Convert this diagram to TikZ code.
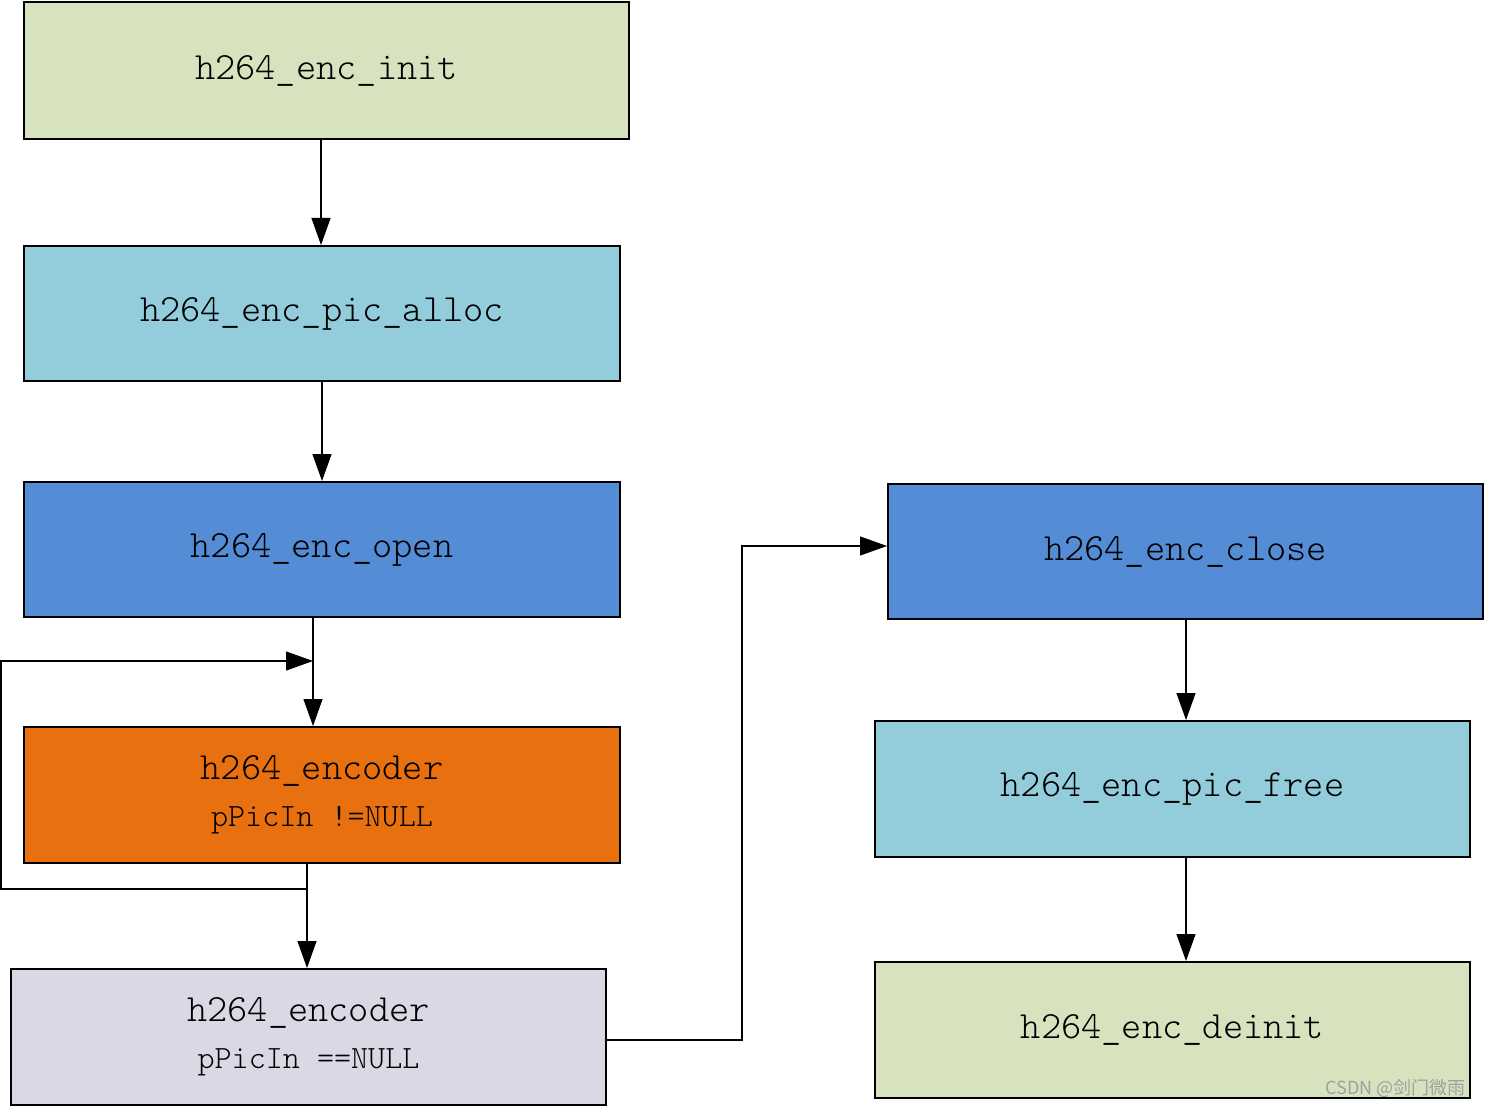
\documentclass[tikz,border=0pt]{standalone}
\usepackage{fontspec}
\setmonofont{Latin Modern Mono Light}
\newfontfamily\cjk{Noto Sans CJK SC}
\usetikzlibrary{arrows.meta}
\definecolor{cgreen}{HTML}{D7E3BF}
\definecolor{clblue}{HTML}{93CDDC}
\definecolor{cblue}{HTML}{558CD6}
\definecolor{corange}{HTML}{E8700F}
\definecolor{clav}{HTML}{DCD7E5}
\tikzset{
  box/.style={draw=black, line width=2pt, rectangle, minimum width=595pt, minimum height=136pt, inner sep=0pt, align=center, font=\ttfamily\fontsize{38.5}{42}\selectfont},
  conn/.style={draw=black, line width=1.1pt, -{Triangle[length=27pt,width=19pt]}}
}
\newcommand{\subtxt}[1]{{\fontsize{32.5}{35}\selectfont #1}}
\newcommand{\lowered}[1]{\raisebox{-2pt}{#1}}
\begin{document}
\begin{tikzpicture}[x=1pt,y=-1pt]
\useasboundingbox (0,0) rectangle (1485,1107);
\node[box, fill=cgreen, minimum width=605pt, minimum height=137pt] (init) at (326.5,70.5) {\lowered{h264\_enc\_init}};
\node[box, fill=clblue, minimum width=596pt, minimum height=135pt] (alloc) at (322,313.5) {\lowered{h264\_enc\_pic\_alloc}};
\node[box, fill=cblue, minimum width=596pt, minimum height=135pt] (open) at (322,549.5) {\lowered{h264\_enc\_open}};
\node[box, fill=corange, minimum width=596pt] (enc1) at (322,795) {h264\_encoder\\[5pt]\subtxt{pPicIn !=NULL}};
\node[box, fill=clav, minimum width=595pt] (enc2) at (308.5,1037) {h264\_encoder\\[5pt]\subtxt{pPicIn ==NULL}};
\node[box, fill=cblue, minimum width=595pt, minimum height=135pt] (close) at (1185.5,551.5) {\lowered{h264\_enc\_close}};
\node[box, fill=clblue, minimum width=595pt] (free) at (1172.5,789) {\lowered{h264\_enc\_pic\_free}};
\node[box, fill=cgreen, minimum width=595pt] (deinit) at (1172.5,1030) {\lowered{h264\_enc\_deinit}};
\node[text=gray!75, font=\cjk\fontsize{18}{20}\selectfont, anchor=east] (wm) at (1469,1088) {CSDN @剑门微雨};

\coordinate (loopin) at (313,661);
\coordinate (loopout) at (307,889);
\draw[conn] (init.south -| 321,0) -- (alloc.north -| 321,0);
\draw[conn] (alloc.south -| 322,0) -- (open.north -| 322,0);
\draw[conn] (open.south -| loopin) -- (enc1.north -| loopin);
\draw[conn] (enc1.south -| loopout) -- (loopout) -- (1,889) -- (1,661) -- (loopin);
\draw[conn] (enc1.south -| loopout) -- (enc2.north -| loopout);
\draw[conn] (enc2.east |- 0,1040) -- (742,1040) -- (742,546) -- (close.west |- 0,546);
\draw[conn] (close.south -| 1186,0) -- (free.north -| 1186,0);
\draw[conn] (free.south -| 1186,0) -- (deinit.north -| 1186,0);
\end{tikzpicture}
\end{document}
